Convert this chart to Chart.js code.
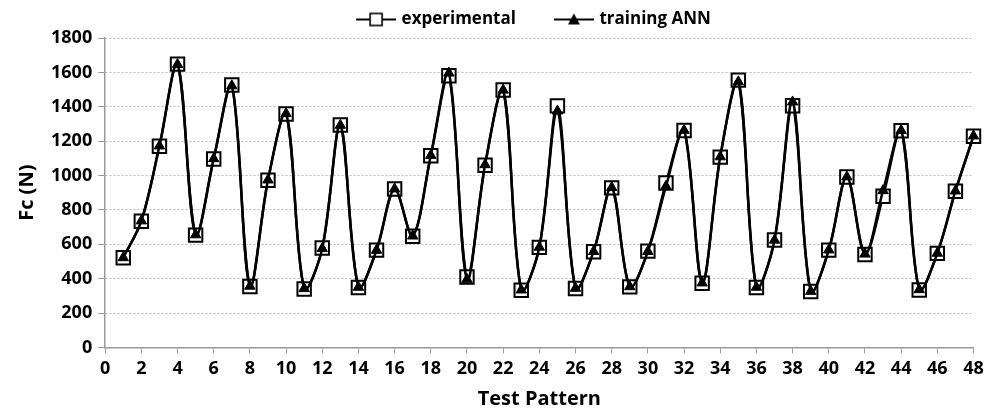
<!DOCTYPE html>
<html>
<head>
<meta charset="utf-8">
<script src="https://cdn.jsdelivr.net/npm/chart.js@4.4.1/dist/chart.umd.min.js"></script>
<style>
  html, body { margin:0; padding:0; background:#fff; }
  #wrap { width:985px; height:412px; position:relative; }
</style>
</head>
<body>
<div id="wrap"><canvas id="chart"></canvas></div>
<script>
// test pattern numbers (x) and measured / predicted cutting force Fc (N)
const testPattern = [1,2,3,4,5,6,7,8,9,10,11,12,13,14,15,16,17,18,19,20,21,22,23,24,
  25,26,27,28,29,30,31,32,33,34,35,36,37,38,39,40,41,42,43,44,45,46,47,48];
const experimental = [522,734,1170,1648,653,1096,1527,354,972,1358,340,578,1294,348,566,921,647,1115,1580,410,1060,1497,333,582,
  1405,343,557,928,352,560,956,1262,373,1107,1555,348,625,1406,325,566,991,541,879,1260,334,547,908,1228];
const trainingANN = [522,736,1172,1646,655,1098,1522,356,974,1360,342,575,1292,350,565,922,648,1117,1596,396,1063,1497,334,583,
  1375,344,558,930,353,558,937,1263,375,1109,1545,350,624,1428,326,567,992,543,912,1262,336,548,910,1230];

const xTicksMin = 0, xTicksMax = 48, xStep = 2;
const yTicksMin = 0, yTicksMax = 1800, yStep = 200;

const fontFam = "'Open Sans', 'Liberation Sans', sans-serif";

// legend symbol: line with marker, blank gap on the left to space the two items
function legendIcon(kind) {
  const c = document.createElement('canvas');
  c.width = 72; c.height = 16;
  const g = c.getContext('2d');
  const o = 32;
  g.strokeStyle = '#000'; g.lineWidth = 2;
  g.beginPath(); g.moveTo(o, 8); g.lineTo(o + 40, 8); g.stroke();
  if (kind === 'square') {
    g.fillStyle = '#fff'; g.fillRect(o + 14, 2, 12, 12);
    g.lineWidth = 1.6; g.strokeRect(o + 14, 2, 12, 12);
  } else {
    g.fillStyle = '#000';
    g.beginPath(); g.moveTo(o + 20, 2); g.lineTo(o + 26, 13); g.lineTo(o + 14, 13); g.closePath(); g.fill();
  }
  return c;
}
const icons = [legendIcon('square'), legendIcon('triangle')];

const legendShift = {
  id:'legendShift',
  afterLayout(chart){ const l = chart.legend; if (l) { l.left += 19; l.right += 19; } }
};

const expPts = testPattern.map((x, i) => ({x, y: experimental[i]}));
const annPts = testPattern.map((x, i) => ({x, y: trainingANN[i]}));

new Chart(document.getElementById('chart'), {
  type: 'line',
  data: {
    datasets: [
      {label:'experimental', data:expPts, borderColor:'#000', borderWidth:2.5, tension:0.33, clip:false,
        pointStyle:'rect', pointRadius:9.5, pointBackgroundColor:'#fff', pointBorderColor:'#000', pointBorderWidth:2, order:2},
      {label:'training ANN', data:annPts, borderColor:'#000', borderWidth:2.5, tension:0.33, clip:false,
        pointStyle:'triangle', pointRadius:6, pointBackgroundColor:'#000', pointBorderColor:'#000', pointBorderWidth:1, order:1}
    ]
  },
  options: {
    responsive:true, maintainAspectRatio:false, animation:false,
    layout:{padding:{left:15, right:0, top:2, bottom:1}},
    plugins:{
      tooltip:{enabled:false},
      legend:{position:'top', labels:{
        color:'#000', font:{family:fontFam, size:17, weight:'bold'},
        usePointStyle:true, pointStyleWidth:66, padding:9,
        sort:(a, b) => a.datasetIndex - b.datasetIndex,
        generateLabels(chart){
          const items = Chart.defaults.plugins.legend.labels.generateLabels(chart);
          items.forEach(it => { it.pointStyle = icons[it.datasetIndex]; });
          return items;
        }
      }}
    },
    scales:{
      x:{type:'linear', min:xTicksMin, max:xTicksMax,
        afterFit(scale){ scale.paddingRight = 9; },
        ticks:{stepSize:xStep, color:'#000', font:{family:fontFam, size:18, weight:'bold'}, padding:5, maxRotation:0},
        grid:{drawOnChartArea:false, drawTicks:true, tickLength:6, color:'#999'},
        border:{color:'#999', width:1.5},
        title:{display:true, text:'Test Pattern', color:'#000', font:{family:fontFam, size:20, weight:'bold'}, padding:{top:2, bottom:0}}},
      y:{min:yTicksMin, max:yTicksMax,
        ticks:{stepSize:yStep, color:'#000', font:{family:fontFam, size:18, weight:'bold'}, padding:6,
          callback:v => String(v)},
        grid:{color:'#bbb', tickLength:7, tickColor:'#999', lineWidth:1},
        border:{color:'#999', width:1.5, dash:[2,2]},
        title:{display:true, text:'Fc (N)', color:'#000', font:{family:fontFam, size:20, weight:'bold'}, padding:{top:0, bottom:6}}}
    }
  },
  plugins:[legendShift]
});
</script>
</body>
</html>
